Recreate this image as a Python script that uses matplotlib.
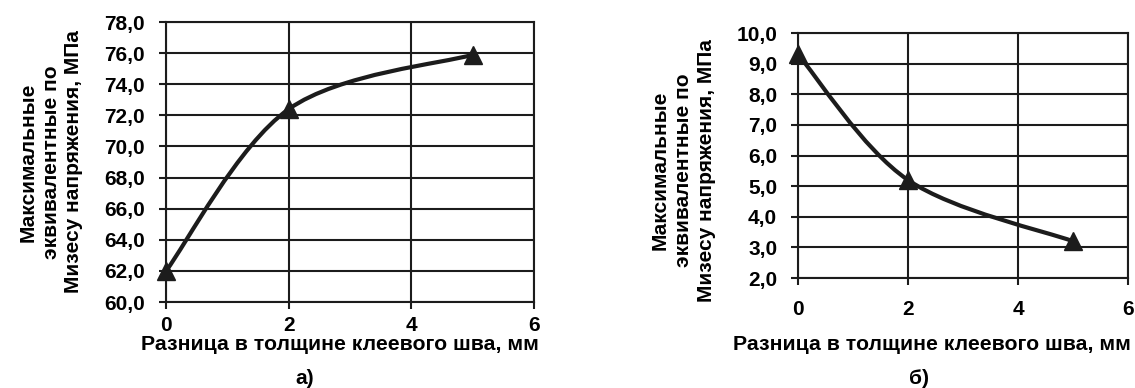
import numpy as np
import matplotlib.pyplot as plt
from matplotlib.path import Path
from matplotlib.patches import PathPatch

plt.rcParams['font.family'] = ['Liberation Sans', 'DejaVu Sans']
plt.rcParams['font.weight'] = 'bold'

# Данные
x_mm = [0, 2, 5]
sigma_a = [62.0, 72.4, 75.9]
sigma_b = [9.3, 5.2, 3.2]

ylabel = "Максимальные\nэквивалентные по\nМизесу напряжения, МПа"
xlabel = "Разница в толщине клеевого шва, мм"
ink = '#1c1c1c'
fs = 15


def smooth_path(xs, ys):
    # сглаженная линия как в Excel (кривые Безье через точки)
    p = np.column_stack([xs, ys]).astype(float)
    n = len(p)
    verts = [p[0]]
    codes = [Path.MOVETO]
    for i in range(n - 1):
        p0 = p[i - 1] if i > 0 else p[i]
        p1 = p[i]
        p2 = p[i + 1]
        p3 = p[i + 2] if i + 2 < n else p[i + 1]
        c1 = p1 + (p2 - p0) / 6.0
        c2 = p2 - (p3 - p1) / 6.0
        verts += [c1, c2, p2]
        codes += [Path.CURVE4] * 3
    return Path(verts, codes)


def draw(ax, ys, ylim, ystep, tick_pad, xlab_xy, ylab_xy):
    ax.add_patch(PathPatch(smooth_path(x_mm, ys), fill=False, lw=3.0,
                           edgecolor=ink, capstyle='round', zorder=3))
    ax.plot(x_mm, ys, '^', color=ink, markersize=12.5, clip_on=False, zorder=4)
    ax.set_xlim(0, 6)
    ax.set_ylim(*ylim)
    ax.set_xticks([0, 2, 4, 6])
    yt = np.arange(ylim[0], ylim[1] + 0.01, ystep)
    ax.set_yticks(yt)
    ax.set_yticklabels([f"{v:.1f}".replace('.', ',') for v in yt])
    ax.grid(True, color=ink, lw=1.5)
    for s in ax.spines.values():
        s.set_color(ink)
        s.set_linewidth(1.5)
    ax.tick_params(axis='both', labelsize=fs, length=5, width=1.5, color=ink)
    ax.tick_params(axis='x', pad=tick_pad)
    ax.tick_params(axis='y', pad=10)
    ax.set_ylabel(ylabel, fontsize=fs, fontweight='bold', linespacing=1.25)
    ax.yaxis.set_label_coords(*ylab_xy)
    ax.set_xlabel(xlabel, fontsize=15.3, fontweight='bold', va='center')
    ax.xaxis.set_label_coords(*xlab_xy)


fig = plt.figure(figsize=(11.35, 3.88), dpi=100)
ax1 = fig.add_axes([0.1463, 0.2216, 0.3242, 0.7216])
ax2 = fig.add_axes([0.7031, 0.2835, 0.2907, 0.6314])

draw(ax1, sigma_a, (60, 78), 2, 5, (0.473, -42 / 280), (-0.225, 0.5))
draw(ax2, sigma_b, (2, 10), 1, 11, (0.406, -67 / 245), (-0.25, 0.44))

fig.text(305 / 1135, 1 - 379 / 388, "а)", fontsize=fs, fontweight='bold',
         ha='center', va='center')
fig.text(919 / 1135, 1 - 379 / 388, "б)", fontsize=fs, fontweight='bold',
         ha='center', va='center')

fig.savefig("out.png", dpi=100)
